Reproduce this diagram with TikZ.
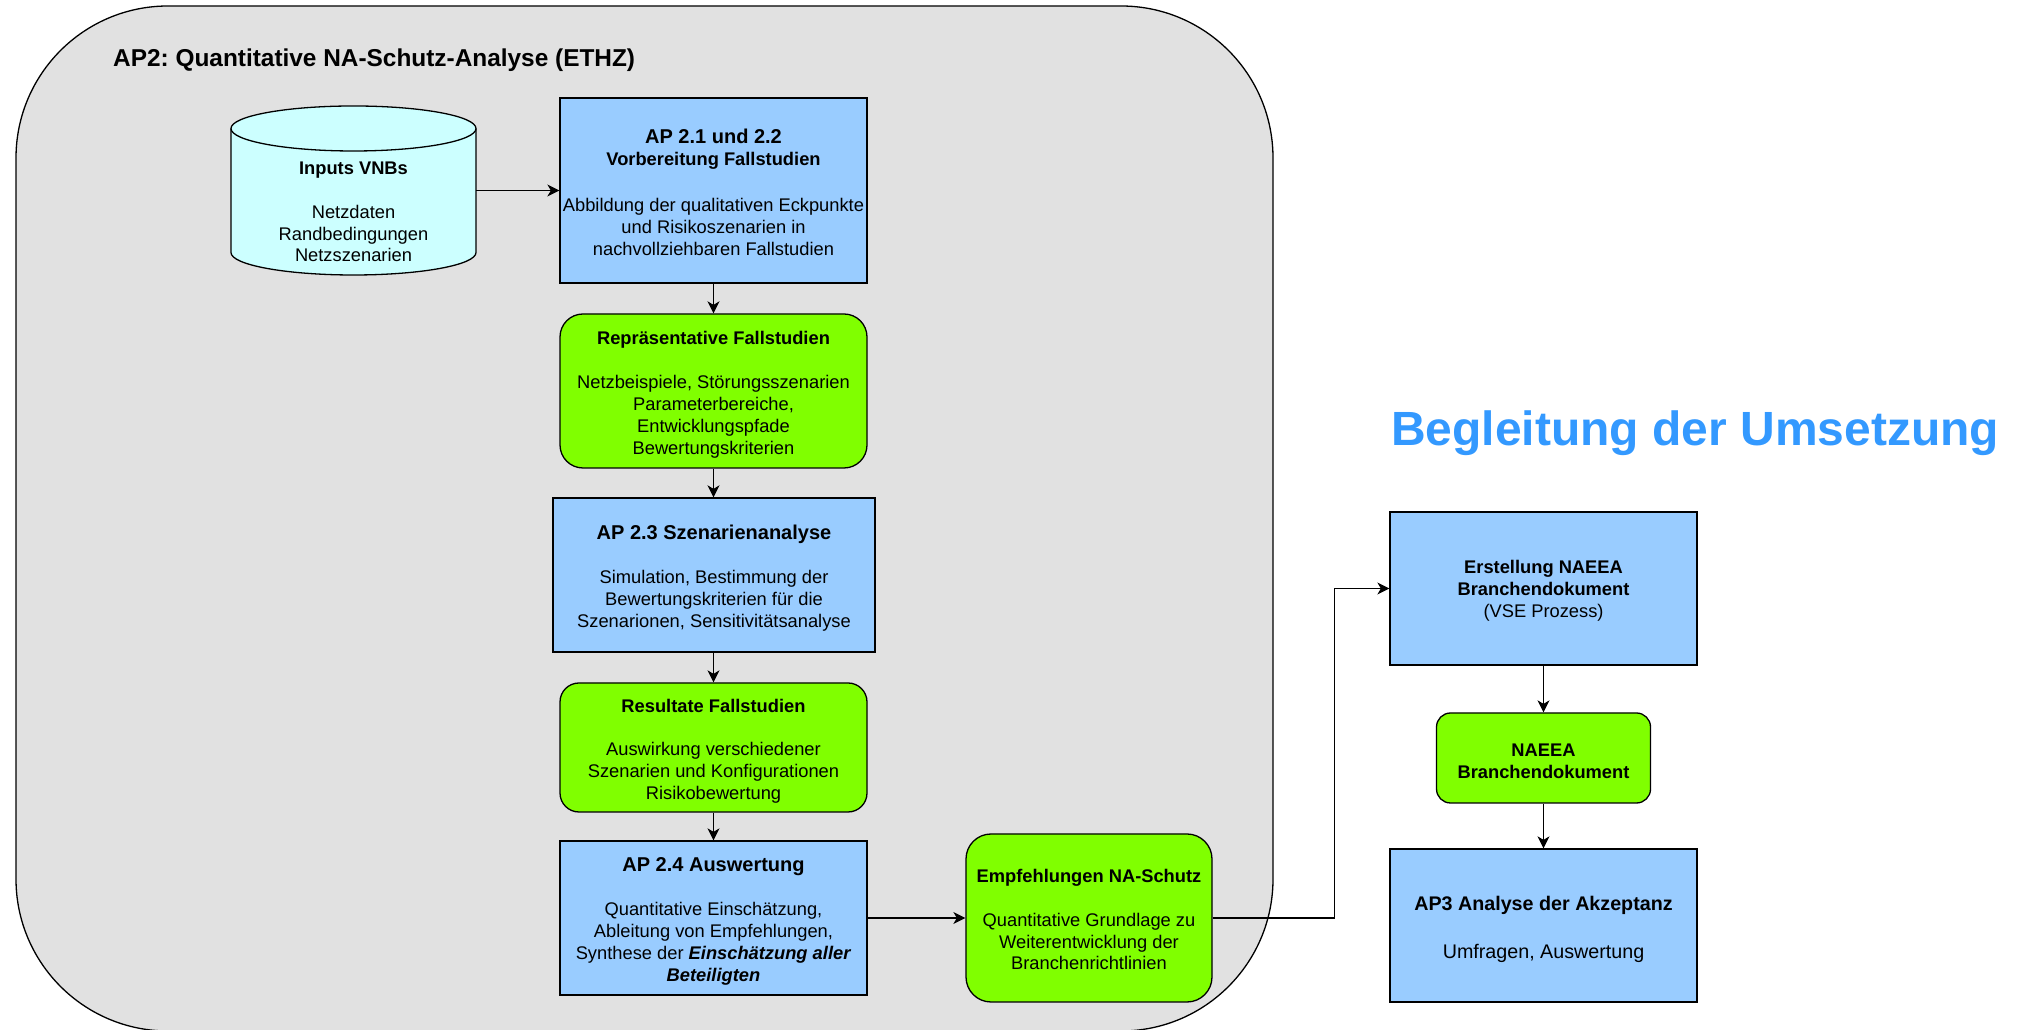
\documentclass[tikz,border=0pt]{standalone}
\usepackage{fontspec}
\setmainfont{Liberation Sans}
\usetikzlibrary{arrows.meta}

\definecolor{boxblue}{HTML}{99CCFF}
\definecolor{boxgreen}{HTML}{80FF00}
\definecolor{dbcyan}{HTML}{CCFFFF}
\definecolor{groupgray}{HTML}{E1E1E1}
\definecolor{headblue}{HTML}{3399FF}
\newcommand{\boxtop}[1][20.5pt]{\rule{0pt}{#1}}

\begin{document}
\frenchspacing
\begin{tikzpicture}[x=1pt, y=1pt,
        every node/.style={font=\fontsize{18.3}{21.9}\selectfont, align=center, inner sep=0pt},
        bluebox/.style={draw, line width=1.3pt, fill=boxblue, rectangle},
        greenbox/.style={draw, line width=1.3pt, fill=boxgreen, rounded corners=#1},
        link/.style={line width=1.3pt, -{Stealth[length=12pt, width=12pt, inset=3.5pt]}}]
                \path[use as bounding box, fill=white] (0,0) rectangle (2020,1030);

                \draw[line width=1.3pt, fill=groupgray, rounded corners=152pt] (16,1024) rectangle (1273,-1);
                \node[anchor=base west, font=\fontsize{24.4}{29}\selectfont\bfseries] (groupTitle) at (113,963.5)
                    {AP2: Quantitative NA-Schutz-Analyse (ETHZ)};

                \filldraw[line width=1.3pt, fill=dbcyan] (231,901.5) -- (231,777.5)
                    arc[start angle=180, end angle=360, x radius=122.5, y radius=22.5] -- (476,901.5)
                    arc[start angle=0, end angle=180, x radius=122.5, y radius=22.5] -- cycle;
                \draw[line width=1.3pt] (231,901.5) arc[start angle=180, end angle=360, x radius=122.5, y radius=22.5];
                \node[minimum width=245pt] (inputs) at (353.5,818)
                    {\textbf{Inputs VNBs}\\[21.9pt] Netzdaten\\ Randbedingungen\\ Netzszenarien};

                \node[bluebox, minimum width=307pt, minimum height=185pt] (ap21) at (713.5,839.5)
                    {\boxtop[18.6pt]{\fontsize{20}{21.9}\selectfont\bfseries AP 2.1 und 2.2}\\ \textbf{Vorbereitung Fallstudien}\\[24pt]
                     Abbildung der qualitativen Eckpunkte\\ und Risikoszenarien in\\ nachvollziehbaren Fallstudien};
                \node[greenbox=23pt, minimum width=307pt, minimum height=154pt] (rep) at (713.5,639)
                    {\boxtop\textbf{Repräsentative Fallstudien}\\[21.9pt] Netzbeispiele, Störungsszenarien\\
                     Parameterbereiche,\\ Entwicklungspfade\\ Bewertungskriterien};
                \node[bluebox, minimum width=322pt, minimum height=154pt] (ap23) at (714,455)
                    {\boxtop{\fontsize{20}{21.9}\selectfont\bfseries AP 2.3 Szenarienanalyse}\\[21.9pt]
                     Simulation, Bestimmung der\\ Bewertungskriterien für die\\ Szenarionen, Sensitivitätsanalyse};
                \node[greenbox=19pt, minimum width=307pt, minimum height=129pt] (res) at (713.5,282.5)
                    {\boxtop\textbf{Resultate Fallstudien}\\[21.9pt] Auswirkung verschiedener\\
                     Szenarien und Konfigurationen\\ Risikobewertung};
                \node[bluebox, minimum width=307pt, minimum height=154pt] (ap24) at (713.5,112)
                    {\boxtop{\fontsize{20}{21.9}\selectfont\bfseries AP 2.4 Auswertung}\\[21.9pt]
                     Quantitative Einschätzung,\\ Ableitung von Empfehlungen,\\
                     Synthese der \textbf{\textit{Einschätzung aller}}\\ \textbf{\textit{Beteiligten}}};
                \node[greenbox=25pt, minimum width=246pt, minimum height=168pt] (empf) at (1089,112)
                    {\boxtop[16.5pt]\textbf{Empfehlungen NA-Schutz}\\[21.9pt] Quantitative Grundlage zu\\
                     Weiterentwicklung der\\ Branchenrichtlinien};

                \node[anchor=base west, text=headblue, font=\fontsize{48}{58}\selectfont\bfseries] (heading) at (1391,584)
                    {Begleitung der Umsetzung};
                \node[bluebox, minimum width=307pt, minimum height=153pt] (erst) at (1543.5,441.5)
                    {\boxtop[18.3pt]\textbf{Erstellung NAEEA}\\ \textbf{Branchendokument}\\ (VSE Prozess)};
                \node[greenbox=14pt, minimum width=214pt, minimum height=90pt] (naeea) at (1543.5,272)
                    {\boxtop[18.3pt]\textbf{NAEEA}\\ \textbf{Branchendokument}};
                \node[bluebox, minimum width=307pt, minimum height=153pt, font=\fontsize{19.7}{23.6}\selectfont] (ap3) at (1543.5,104.5)
                    {\boxtop[22pt]\textbf{AP3 Analyse der Akzeptanz}\\[23.6pt] Umfragen, Auswertung};

                \draw[link] (inputs.east |- ap21.west) -- (ap21.west);
                \draw[link] (ap21.south) -- (rep.north);
                \draw[link] (rep.south) -- (rep.south |- ap23.north);
                \draw[link] (rep.south |- ap23.south) -- (res.north);
                \draw[link] (res.south) -- (ap24.north);
                \draw[link] (ap24.east) -- (empf.west);
                \draw[link] (empf.east) -- ++(122,0) |- (erst.west);
                \draw[link] (erst.south) -- (naeea.north);
                \draw[link] (naeea.south) -- (ap3.north);
\end{tikzpicture}
\end{document}
